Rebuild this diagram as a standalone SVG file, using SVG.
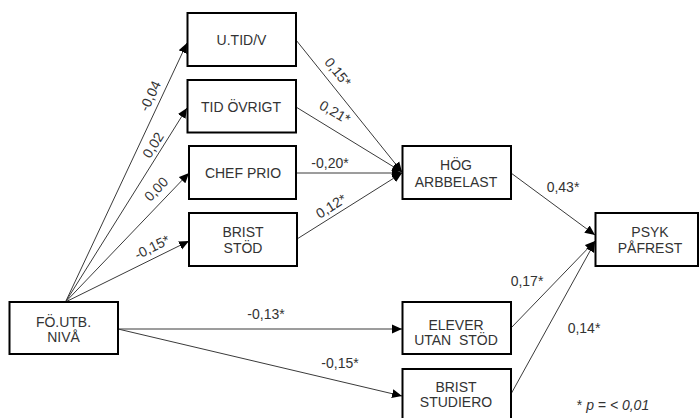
<svg xmlns="http://www.w3.org/2000/svg" width="700" height="418" viewBox="0 0 700 418">
<style>
.box{fill:#fff;stroke:#000;stroke-width:2}
.t{font-family:"Liberation Sans",Arial,sans-serif;font-size:14px;fill:#333;text-anchor:middle}
.c{stroke:#3a3a3a;stroke-width:1;fill:none}
.a{marker-end:url(#ah)}
</style>
<defs>
<marker id="ah" markerUnits="userSpaceOnUse" markerWidth="12" markerHeight="10" refX="10" refY="5" orient="auto">
<path d="M0,0.5 L10,5 L0,9.5 Z" fill="#000"/>
</marker>
</defs>
<rect width="700" height="418" fill="#fff"/>
<g id="connectors">
<line class="c a" x1="65.5" y1="302" x2="187" y2="43"/>
<line class="c a" x1="65.5" y1="302" x2="187" y2="108"/>
<line class="c a" x1="65.5" y1="302" x2="189" y2="173"/>
<line class="c a" x1="65.5" y1="302" x2="189" y2="241"/>
<line class="c a" x1="118" y1="329" x2="402" y2="329"/>
<line class="c a" x1="118" y1="329" x2="402" y2="396"/>
<line class="c a" x1="296" y1="40" x2="402" y2="172"/>
<line class="c a" x1="296" y1="107" x2="402" y2="172"/>
<line class="c a" x1="296" y1="173" x2="402" y2="173"/>
<line class="c a" x1="297" y1="239" x2="402" y2="173"/>
<line class="c a" x1="511" y1="173" x2="595" y2="235"/>
<line class="c a" x1="511" y1="328" x2="595" y2="241"/>
<line class="c a" x1="511" y1="394" x2="595" y2="242"/>
<g class="t">
<text transform="translate(150,96) rotate(-65)" y="5">-0,04</text>
<text transform="translate(153,145) rotate(-58)" y="5">0,02</text>
<text transform="translate(156,189) rotate(-46)" y="5">0,00</text>
<text transform="translate(152,247) rotate(-26)" y="5">-0,15*</text>
<text transform="translate(338,72) rotate(51)" y="5">0,15*</text>
<text transform="translate(335,112) rotate(30)" y="5">0,21*</text>
<text x="330" y="168">-0,20*</text>
<text transform="translate(331,206) rotate(-32)" y="5">0,12*</text>
<text x="563" y="192">0,43*</text>
<text x="266" y="319">-0,13*</text>
<text x="340" y="367.5">-0,15*</text>
<text x="527" y="286">0,17*</text>
<text x="584" y="333">0,14*</text>
</g>
</g>
<g id="n_utid">
<rect class="box" x="187.5" y="13" width="108.5" height="53"/>
<text class="t" x="241.5" y="45">U.TID/V</text>
</g>
<g id="n_tidovrigt">
<rect class="box" x="187.5" y="80" width="108.5" height="52.5"/>
<text class="t" x="241" y="111.5">TID ÖVRIGT</text>
</g>
<g id="n_chefprio">
<rect class="box" x="189" y="146" width="107" height="53"/>
<text class="t" x="243" y="178">CHEF PRIO</text>
</g>
<g id="n_briststod">
<rect class="box" x="189" y="213" width="108" height="53"/>
<text class="t" x="243" y="236.5">BRIST</text>
<text class="t" x="243" y="253">STÖD</text>
</g>
<g id="n_foutb">
<rect class="box" x="9.5" y="302" width="108.5" height="52"/>
<text class="t" x="63.5" y="326.5">FÖ.UTB.</text>
<text class="t" x="63.5" y="341.5">NIVÅ</text>
</g>
<g id="n_hog">
<rect class="box" x="402.5" y="146" width="108.5" height="53"/>
<text class="t" x="456" y="170">HÖG</text>
<text class="t" x="456" y="186.5">ARBBELAST</text>
</g>
<g id="n_psyk">
<rect class="box" x="595.5" y="213" width="102.5" height="53"/>
<text class="t" x="650" y="237">PSYK</text>
<text class="t" x="650" y="253">PÅFREST</text>
</g>
<g id="n_elever">
<rect class="box" x="402.5" y="302" width="108.5" height="52"/>
<text class="t" x="456" y="330" xml:space="preserve">ELEVER</text>
<text class="t" x="456" y="345" xml:space="preserve">UTAN  STÖD</text>
</g>
<g id="n_briststudiero">
<rect class="box" x="402.5" y="369" width="108.5" height="52"/>
<text class="t" x="456" y="391.5">BRIST</text>
<text class="t" x="456" y="406.5">STUDIERO</text>
</g>
<g id="note">
<text class="t" x="613" y="410" font-style="italic"><tspan font-style="normal">*</tspan> p = &lt; 0,01</text>
</g>
</svg>
